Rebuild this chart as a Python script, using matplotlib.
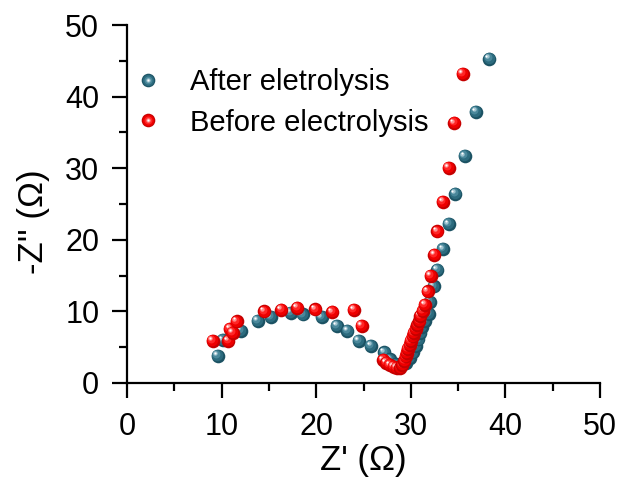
import numpy as np
import matplotlib
matplotlib.use('Agg')
import matplotlib.pyplot as plt
import matplotlib.transforms as mtransforms
from matplotlib.legend_handler import HandlerTuple

plt.rcParams['font.family'] = ['Liberation Sans', 'DejaVu Sans']

# Nyquist data
after_x = [9.6, 10.1, 12.0, 13.8, 15.2, 17.3, 18.6, 20.6, 22.2, 23.3, 24.5, 25.8,
           27.2, 27.8, 28.4, 29.0, 29.5, 29.9, 30.2, 30.5, 30.8, 31.0, 31.2, 31.5,
           31.9, 32.0, 32.4, 32.8, 33.4, 34.0, 34.7, 35.7, 36.9, 38.3]
after_y = [3.8, 6.0, 7.3, 8.7, 9.2, 9.8, 9.6, 9.2, 8.0, 7.3, 5.9, 5.2,
           4.3, 3.3, 2.6, 2.4, 2.8, 3.5, 4.3, 5.2, 6.1, 7.0, 7.8, 8.7,
           9.7, 11.3, 13.5, 15.8, 18.7, 22.2, 26.4, 31.7, 37.9, 45.3]

before_x = [9.05, 10.7, 10.9, 11.2, 11.6, 14.5, 16.3, 18.0, 19.9, 21.7, 24.0, 24.8,
            27.1, 27.4, 27.8, 28.2, 28.5, 28.9, 29.1, 29.3, 29.5, 29.6, 29.7, 29.9,
            30.0, 30.2, 30.3, 30.5, 30.7, 30.9, 31.0, 31.3, 31.5, 31.8, 32.1, 32.5,
            32.8, 33.4, 34.0, 34.6, 35.5]
before_y = [5.9, 5.9, 7.6, 7.0, 8.6, 10.0, 10.2, 10.5, 10.3, 9.9, 10.2, 8.0,
            3.2, 2.8, 2.5, 2.3, 2.1, 2.1, 2.5, 3.1, 3.7, 4.2, 4.8, 5.3,
            5.9, 6.5, 7.0, 7.6, 8.1, 8.7, 9.4, 10.1, 10.9, 12.8, 15.0, 17.9,
            21.2, 25.3, 30.1, 36.3, 43.2]

labels = ['After eletrolysis', 'Before electrolysis']

fig = plt.figure(figsize=(6.27, 4.91), dpi=100)
ax = fig.add_axes([0.2026, 0.22, 0.7544, 0.729])

ms = 9.8
# shaded "ball" layers: (size factor, dx pt, dy pt, colour)
teal_layers = [(1.0, 0, 0, '#1b5263'), (0.84, -0.5, 0.5, '#2c6b7e'),
               (0.58, -1.2, 1.2, '#4a889b'), (0.32, -1.8, 1.8, '#9fc3cf'),
               (0.15, -2.1, 2.1, '#ffffff')]
red_layers = [(1.0, 0, 0, '#c40000'), (0.84, -0.5, 0.5, '#ee0000'),
              (0.58, -1.2, 1.2, '#ff2626'), (0.32, -1.8, 1.8, '#ff9090'),
              (0.15, -2.1, 2.1, '#ffffff')]


def draw_balls(xs, ys, layers):
    for x, y in zip(xs, ys):
        for f, dx, dy, c in layers:
            off = mtransforms.ScaledTranslation(dx / 72, dy / 72, fig.dpi_scale_trans)
            ax.plot([x], [y], 'o', ms=ms * f, color=c, mec='none',
                    transform=ax.transData + off, clip_on=False)


def legend_handle(layers):
    hs = []
    for f, dx, dy, c in layers:
        h, = ax.plot([], [], 'o', ms=ms * f, color=c, mec='none')
        hs.append(h)
    return tuple(hs)


draw_balls(after_x, after_y, teal_layers)
draw_balls(before_x, before_y, red_layers)

h1 = legend_handle(teal_layers)
h2 = legend_handle(red_layers)
ax.legend([h1, h2], labels, handler_map={tuple: HandlerTuple(ndivide=1)},
          loc='upper left', bbox_to_anchor=(0.0, 0.905), frameon=False,
          fontsize=21, handlelength=0.8, handletextpad=1.04,
          labelspacing=0.42, borderaxespad=0, borderpad=0.32)

ax.set_xlim(0, 50)
ax.set_ylim(0, 50)
ax.set_xticks(np.arange(0, 51, 10))
ax.set_yticks(np.arange(0, 51, 10))
ax.set_xticks(np.arange(5, 50, 10), minor=True)
ax.set_yticks(np.arange(5, 50, 10), minor=True)

for s in ['top', 'right']:
    ax.spines[s].set_visible(False)
for s in ['left', 'bottom']:
    ax.spines[s].set_linewidth(1.6)

ax.tick_params(which='major', direction='out', length=11, width=1.6,
               labelsize=22)
ax.tick_params(which='minor', direction='out', length=5.5, width=1.6)
ax.tick_params(axis='x', which='major', pad=10)
ax.tick_params(axis='y', which='major', pad=9)

ax.set_xlabel("Z' (\u03a9)", fontsize=25, labelpad=1)
ax.set_ylabel("-Z'' (\u03a9)", fontsize=25)
ax.yaxis.set_label_coords(-0.163, 0.45)

fig.savefig('out.png', dpi=100)
